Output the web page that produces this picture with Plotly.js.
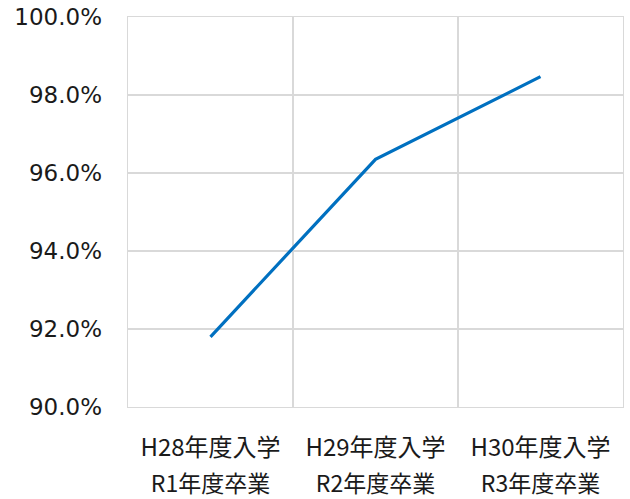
<!DOCTYPE html>
<html>
<head>
<meta charset="utf-8">
<script src="https://cdn.plot.ly/plotly-3.0.1.min.js"></script>
<style>html,body{margin:0;padding:0;background:#fff;}#chart{width:630px;height:499px;}</style>
</head>
<body>
<div id="chart"></div>
<script>
const entryYears = ['H28年度入学', 'H29年度入学', 'H30年度入学'];
const gradYears = ['R1年度卒業', 'R2年度卒業', 'R3年度卒業'];
const rates = [91.8, 96.35, 98.47];

const gridColor = '#d9d9d9';
const labelFont = {family: 'Noto Sans CJK JP', size: 24, color: '#1a1a1a'};
const labelFont2 = {family: 'Noto Sans CJK JP', size: 23, color: '#1a1a1a'};

const traces = [
  {
    x: entryYears, y: rates, type: 'scatter', mode: 'lines',
    line: {color: '#0070c0', width: 3.2},
    xaxis: 'x', yaxis: 'y', hoverinfo: 'skip', showlegend: false
  },
  {
    x: gradYears, y: rates, type: 'scatter', mode: 'lines',
    line: {color: 'rgba(0,0,0,0)', width: 0},
    xaxis: 'x2', yaxis: 'y', hoverinfo: 'skip', showlegend: false
  }
];

const layout = {
  width: 630, height: 499,
  margin: {l: 128, r: 7, t: 17, b: 92},
  paper_bgcolor: '#fff', plot_bgcolor: '#fff',
  showlegend: false,
  xaxis: {
    type: 'category', range: [-0.5, 2.5],
    tickson: 'boundaries', showgrid: true, gridcolor: gridColor, gridwidth: 1.4,
    showline: true, mirror: true, linecolor: gridColor, linewidth: 1.4,
    ticks: '', tickfont: labelFont, ticklabelstandoff: 19,
    zeroline: false, fixedrange: true
  },
  xaxis2: {
    type: 'category', range: [-0.5, 2.5], overlaying: 'x', anchor: 'y', side: 'bottom',
    showgrid: false, showline: false, ticks: '', tickfont: labelFont2,
    ticklabelstandoff: 61, zeroline: false, fixedrange: true
  },
  yaxis: {
    range: [90, 100], dtick: 2, tick0: 90, tickformat: '.1f', ticksuffix: '%',
    showgrid: true, gridcolor: gridColor, gridwidth: 1.4,
    showline: true, mirror: true, linecolor: gridColor, linewidth: 1.4,
    ticks: '', ticklabelstandoff: 20, zeroline: false, fixedrange: true,
    tickfont: {family: 'DejaVu Sans', size: 23, color: '#1a1a1a'}
  }
};

Plotly.newPlot('chart', traces, layout, {displayModeBar: false, staticPlot: true});
</script>
</body>
</html>
